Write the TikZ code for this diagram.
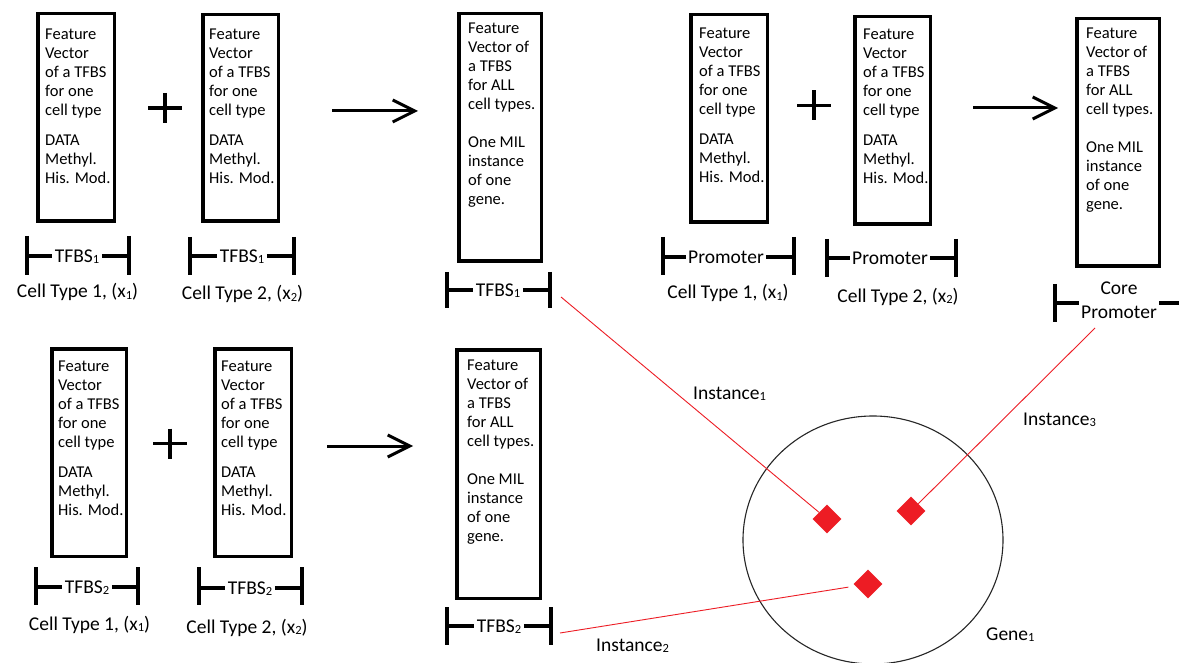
\documentclass[tikz,border=0pt]{standalone}
\usepackage{fontspec}
\setmainfont{Carlito}
\usetikzlibrary{arrows.meta,shapes.geometric}
\definecolor{pred}{HTML}{ED1C24}
\newcommand\bxfont{\fontsize{16.5}{19}\selectfont}
\newcommand\lbfont{\fontsize{19.5}{24}\selectfont}
\newcommand\sbs[1]{\raisebox{-1.5pt}{\fontsize{12.5}{12.5}\selectfont #1}}
\newcommand\fvone{\begin{tabular}[t]{@{}l@{}}Feature\\Vector\\of a TFBS\\for one\\cell type\\[11pt]DATA\\Methyl.\\His. Mod.\end{tabular}}
\newcommand\fvall{\begin{tabular}[t]{@{}l@{}}Feature\\Vector of\\a TFBS\\for ALL\\cell types.\\[19pt]One MIL\\instance\\of one\\gene.\end{tabular}}
\tikzset{
  fvbox/.style={draw=black, line width=3.5pt, rectangle, inner sep=0pt},
  fvtext/.style={anchor=base west, inner sep=0pt, font=\bxfont},
  brkline/.style={line width=3.2pt},
  brklabel/.style={font=\lbfont, inner sep=2.5pt, text height=12.5pt, text depth=0pt},
  celllabel/.style={font=\lbfont, anchor=base, inner sep=0pt},
  instlabel/.style={font=\lbfont, anchor=base west, inner sep=0pt},
  bigarrow/.style={line width=3pt, -{Straight Barb[length=22pt,width=22pt]}},
  plusline/.style={line width=3.5pt},
  redline/.style={draw=pred, line width=0.9pt},
  site/.style={diamond, fill=pred, minimum size=29pt, inner sep=0pt},
  genecircle/.style={ellipse, draw=black!85, line width=1.1pt, minimum width=260pt, minimum height=248pt, inner sep=0pt},
  plussign/.pic={\draw[plusline] (-17,0) -- (17,0) (0,-15) -- (0,15);}
}
% name, xl, xr, ytop, ybot, ymid, textx, label
\newcommand\gbrk[8]{%
  \node[brklabel] (#1) at (#7,#6) {#8};
  \coordinate (#1-lt) at (#2,#4); \coordinate (#1-lb) at (#2,#5);
  \coordinate (#1-rt) at (#3,#4); \coordinate (#1-rb) at (#3,#5);
  \coordinate (#1-lm) at (#2,#6); \coordinate (#1-rm) at (#3,#6);
  \draw[brkline] (#1-lt) -- (#1-lb);
  \draw[brkline] (#1-rt) -- (#1-rb);
  \draw[brkline] (#1-lm) -- (#1.west);
  \draw[brkline] (#1.east) -- (#1-rm);
}
\begin{document}
\begin{tikzpicture}[x=1pt,y=-1pt]
\path[fill=white, use as bounding box] (0,0) rectangle (1179,663);

% ---- boxes ----
\node[fvbox, minimum width=76.5pt, minimum height=207.5pt] (a1) at (76,117.5) {};
\node[fvbox, minimum width=75.5pt, minimum height=206.5pt] (a2) at (240.5,118) {};
\node[fvbox, minimum width=82.5pt, minimum height=247.5pt] (b)  at (500,137.5) {};
\node[fvbox, minimum width=76.5pt, minimum height=207.5pt] (c1) at (729,118.5) {};
\node[fvbox, minimum width=75.5pt, minimum height=207.5pt] (c2) at (892.5,120.5) {};
\node[fvbox, minimum width=82.5pt, minimum height=247.5pt] (d)  at (1118,142.5) {};
\node[fvbox, minimum width=74.5pt, minimum height=207.5pt] (e1) at (89,452.5) {};
\node[fvbox, minimum width=76.5pt, minimum height=207.5pt] (e2) at (253,452.5) {};
\node[fvbox, minimum width=83.5pt, minimum height=248.5pt] (f)  at (498.5,474) {};

% ---- box texts ----
\node[fvtext] (a1t) at (45,39.5) {\fvone};
\node[fvtext] (a2t) at (209,39.5) {\fvone};
\node[fvtext] (bt)  at (468,33.5) {\fvall};
\node[fvtext] (c1t) at (699,38.5) {\fvone};
\node[fvtext] (c2t) at (863,39.5) {\fvone};
\node[fvtext] (dt)  at (1086,38.5) {\fvall};
\node[fvtext] (e1t) at (58,371.5) {\fvone};
\node[fvtext] (e2t) at (221,371.5) {\fvone};
\node[fvtext] (ft)  at (467,370.5) {\fvall};

% ---- plus signs ----
\pic at (165,108) {plussign};
\pic at (814,105.5) {plussign};
\pic at (170,443.5) {plussign};

% ---- arrows ----
\coordinate (ar1s) at (332,111); \coordinate (ar1e) at (418,111);
\coordinate (ar2s) at (973,108); \coordinate (ar2e) at (1058,108);
\coordinate (ar3s) at (327,446); \coordinate (ar3e) at (413,446);
\draw[bigarrow] (ar1s) -- (ar1e);
\draw[bigarrow] (ar2s) -- (ar2e);
\draw[bigarrow] (ar3s) -- (ar3e);

% ---- brackets ----
\gbrk{ba1}{27}{129}{236}{275}{256}{77}{TFBS\sbs{1}}
\gbrk{ba2}{190}{294}{237}{275}{256}{242}{TFBS\sbs{1}}
\gbrk{bb}{447}{550}{272}{308}{290}{498}{TFBS\sbs{1}}
\gbrk{bc1}{663}{794}{237}{275}{257}{726}{Promoter}
\gbrk{bc2}{827}{956}{239}{277}{258}{890}{Promoter}
\gbrk{be1}{36}{138}{567}{605}{587}{87}{TFBS\sbs{2}}
\gbrk{be2}{199}{302}{567}{605}{588}{250}{TFBS\sbs{2}}
\gbrk{bf}{447}{551}{607}{645}{626}{499}{TFBS\sbs{2}}

% core promoter bracket
\node[font=\lbfont, align=center, inner sep=2.5pt] (cp) at (1119,300) {Core\\Promoter};
\coordinate (cp-lt) at (1055,284); \coordinate (cp-lb) at (1055,322);
\coordinate (cp-lm) at (1055,303); \coordinate (cp-rm) at (1179,303);
\draw[brkline] (cp-lt) -- (cp-lb);
\draw[brkline] (cp-lm) -- (cp-lm -| cp.west);
\draw[brkline] (cp-rm -| cp.east) -- (cp-rm);

% ---- cell type labels ----
\node[celllabel] (ct1) at (77.5,298) {Cell Type 1, (x\sbs{1})};
\node[celllabel] (ct2) at (242.5,300) {Cell Type 2, (x\sbs{2})};
\node[celllabel] (ct3) at (728,299) {Cell Type 1, (x\sbs{1})};
\node[celllabel] (ct4) at (898,302) {Cell Type 2, (x\sbs{2})};
\node[celllabel] (ct5) at (89.5,630) {Cell Type 1, (x\sbs{1})};
\node[celllabel] (ct6) at (247,633) {Cell Type 2, (x\sbs{2})};

% ---- gene ----
\node[genecircle] (gene) at (873,540) {};
\node[site] (dm1) at (827,519) {};
\node[site] (dm2) at (868,584) {};
\node[site] (dm3) at (911,511) {};

\coordinate (i1s) at (561,297);
\coordinate (i2s) at (560,633);
\coordinate (i3s) at (1095,328);
\draw[redline] (i1s) -- (dm1);
\draw[redline, shorten >=7pt] (i2s) -- (dm2);
\draw[redline] (i3s) -- (dm3);

\node[instlabel] (in1) at (693,399) {Instance\sbs{1}};
\node[instlabel] (in2) at (596,651) {Instance\sbs{2}};
\node[instlabel] (in3) at (1023,425) {Instance\sbs{3}};
\node[instlabel] (g1)  at (986,640) {Gene\sbs{1}};
\end{tikzpicture}
\end{document}
